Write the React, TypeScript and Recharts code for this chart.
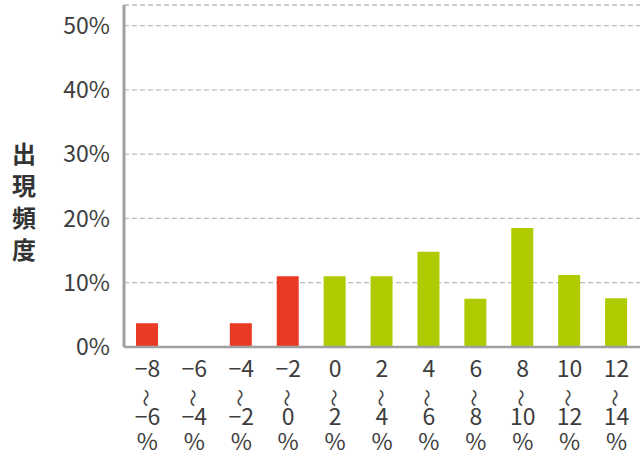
import React from 'react';
import { BarChart, Bar, XAxis, YAxis, CartesianGrid, Cell, Label } from 'recharts';

const rangeFrom = ['−8', '−6', '−4', '−2', '0', '2', '4', '6', '8', '10', '12'];
const rangeTo = ['−6', '−4', '−2', '0', '2', '4', '6', '8', '10', '12', '14'];
const frequency = [3.7, 0, 3.7, 11.0, 11.0, 11.0, 14.8, 7.5, 18.5, 11.2, 7.6];
const yTicks = [0, 10, 20, 30, 40, 50];
const yLabel = ['出', '現', '頻', '度'];

const data = rangeFrom.map((f, i) => ({
  name: `${f}〜${rangeTo[i]}%`,
  from: f,
  to: rangeTo[i],
  value: frequency[i],
  negative: f.startsWith('−'),
}));

const FONT = '"Noto Sans CJK JP", "Noto Sans", sans-serif';
const TEXT = '#3d3d3d';
const RED = '#e83a24';
const GREEN = '#afcb00';

const XTick = (props: any) => {
  const { x, y, payload } = props;
  const [from, rest] = String(payload.value).split('〜');
  const to = rest.replace('%', '');
  return (
    <g>
      <text x={x} y={y + 21.5} textAnchor="middle" fontSize={23} fill={TEXT} fontFamily={FONT}>{from}</text>
      <text x={0} y={0} textAnchor="middle" fontSize={18} fill={TEXT} fontFamily={FONT}
        transform={`translate(${x - 0.5},${y + 43}) rotate(90)`} dominantBaseline="central">〜</text>
      <text x={x} y={y + 70} textAnchor="middle" fontSize={23} fill={TEXT} fontFamily={FONT}>{to}</text>
      <text x={x} y={y + 95} textAnchor="middle" fontSize={23} fill={TEXT} fontFamily={FONT}>%</text>
    </g>
  );
};

const YLabelContent = () => (
  <g>
    {yLabel.map((c, i) => (
      <text key={c} x={24} y={152 + i * 32.3} textAnchor="middle" dominantBaseline="central"
        fontSize={24} fontWeight="bold" fill="#333" fontFamily={FONT}>{c}</text>
    ))}
  </g>
);

export default function App() {
  return (
    <div style={{ position: 'absolute', left: 0, top: 0, width: 640, height: 455, background: '#fff' }}>
      <BarChart width={640} height={455} data={data} margin={{ top: 5, right: 0, bottom: 0, left: 0 }} barCategoryGap={0}>
        <CartesianGrid vertical={false} stroke="#bdbdbd" strokeDasharray="5 3" strokeWidth={1.3} />
        <XAxis dataKey="name" interval={0} tickLine={false} height={108}
          axisLine={{ stroke: '#a0a0a0', strokeWidth: 2.5 }} tick={<XTick />} />
        <YAxis domain={[0, 53.2]} ticks={yTicks} width={124} tickLine={false} tickSize={0} tickMargin={14}
          axisLine={{ stroke: '#a0a0a0', strokeWidth: 3 }}
          tickFormatter={(v: number) => `${v}%`}
          tick={{ fontSize: 23, fill: TEXT, fontFamily: FONT }}>
          <Label content={<YLabelContent />} />
        </YAxis>
        <Bar dataKey="value" barSize={22} isAnimationActive={false}>
          {data.map((d, i) => (
            <Cell key={i} fill={d.negative ? RED : GREEN} />
          ))}
        </Bar>
      </BarChart>
    </div>
  );
}
